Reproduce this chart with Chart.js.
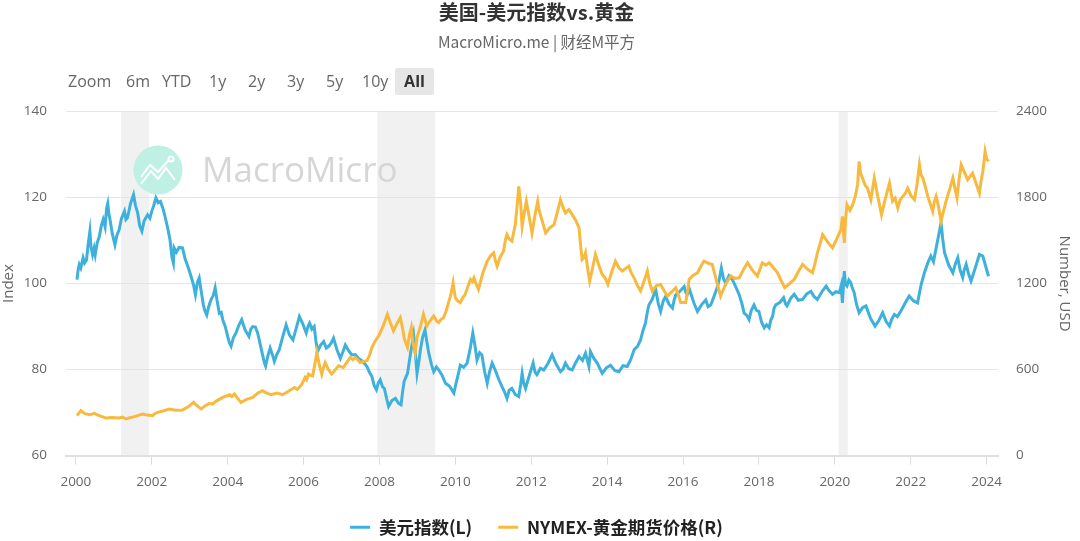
<!DOCTYPE html>
<html>
<head>
<meta charset="utf-8">
<script src="https://cdn.jsdelivr.net/npm/chart.js@4"></script>
<style>
  html, body { margin: 0; padding: 0; background: #fff; }
  #wrap { position: relative; width: 1080px; height: 541px; overflow: hidden; }
  .range { position: absolute; top: 68px; height: 27px; font: 16px/27px "Open Sans", sans-serif; color: #666; }
  .range.on { left: 395px; width: 39px; text-align: center; background: #e6e6e6; color: #333; font-weight: 700; border-radius: 2px; }
</style>
</head>
<body>
<div id="wrap">
  <canvas id="chart" width="1080" height="541"></canvas>
  <span class="range" style="left:68px">Zoom</span>
  <span class="range" style="left:126px">6m</span>
  <span class="range" style="left:162px">YTD</span>
  <span class="range" style="left:209px">1y</span>
  <span class="range" style="left:248px">2y</span>
  <span class="range" style="left:287px">3y</span>
  <span class="range" style="left:326px">5y</span>
  <span class="range" style="left:362px">10y</span>
  <span class="range on">All</span>
</div>
<script>
// values, one line per stretch of time
const dollarYears = [
  2000.03,2000.06,2000.09,2000.13,2000.19,2000.23,2000.28,2000.32,2000.37,2000.40,2000.44,2000.48,2000.51,2000.56,2000.62,2000.67,2000.72,2000.77,2000.81,2000.84,2000.87,2000.90,2000.96,
  2001.03,2001.08,2001.14,2001.20,2001.28,2001.32,2001.36,2001.44,2001.52,2001.57,2001.63,2001.68,2001.74,2001.80,2001.89,2001.95,
  2002.00,2002.05,2002.11,2002.17,2002.23,2002.29,2002.35,2002.42,2002.48,2002.53,2002.57,2002.59,2002.65,2002.72,2002.81,2002.88,2002.95,
  2003.03,2003.10,2003.15,2003.20,2003.25,2003.30,2003.36,2003.40,2003.45,2003.50,2003.56,2003.62,2003.67,2003.72,2003.78,2003.83,2003.87,2003.94,
  2004.00,2004.05,2004.09,2004.15,2004.22,2004.30,2004.37,2004.46,2004.56,2004.61,2004.66,2004.73,2004.79,2004.86,2004.92,2004.97,
  2005.00,2005.06,2005.12,2005.18,2005.23,2005.30,2005.36,2005.45,2005.54,2005.63,2005.72,2005.80,2005.89,2005.98,
  2006.07,2006.12,2006.16,2006.22,2006.28,2006.33,2006.37,2006.45,2006.53,2006.60,2006.66,2006.73,2006.79,2006.88,2006.97,
  2007.04,2007.10,2007.18,2007.27,2007.36,2007.45,2007.56,2007.67,2007.74,2007.80,2007.86,2007.92,2007.97,
  2008.02,2008.08,2008.13,2008.19,2008.24,2008.33,2008.42,2008.50,2008.57,2008.61,2008.65,2008.70,2008.74,2008.82,2008.90,2008.95,2008.99,
  2009.04,2009.08,2009.14,2009.20,2009.25,2009.30,2009.37,2009.43,2009.50,2009.56,2009.65,2009.74,2009.85,2009.96,
  2010.04,2010.09,2010.13,2010.22,2010.31,2010.39,2010.46,2010.52,2010.57,2010.64,2010.70,2010.77,2010.84,2010.90,2010.97,
  2011.05,2011.14,2011.23,2011.30,2011.36,2011.42,2011.49,2011.58,2011.67,2011.72,2011.76,2011.80,2011.85,2011.95,
  2012.05,2012.10,2012.15,2012.24,2012.33,2012.44,2012.55,2012.66,2012.77,2012.84,2012.90,2012.99,
  2013.08,2013.17,2013.26,2013.35,2013.43,2013.52,2013.56,2013.65,2013.74,2013.80,2013.87,2013.98,
  2014.09,2014.20,2014.31,2014.42,2014.53,2014.62,2014.71,2014.80,2014.88,2014.95,
  2015.01,2015.06,2015.10,2015.19,2015.28,2015.35,2015.41,2015.48,2015.54,2015.63,2015.72,2015.77,2015.81,2015.92,
  2016.03,2016.07,2016.11,2016.16,2016.20,2016.29,2016.38,2016.49,2016.60,2016.66,2016.73,2016.82,2016.91,2016.96,
  2017.01,2017.07,2017.13,2017.21,2017.30,2017.39,2017.48,2017.55,2017.61,2017.68,2017.74,2017.80,2017.87,2017.93,
  2018.00,2018.07,2018.14,2018.20,2018.27,2018.31,2018.36,2018.40,2018.45,2018.55,2018.65,2018.70,2018.74,2018.84,2018.93,
  2019.04,2019.15,2019.26,2019.37,2019.45,2019.54,2019.66,2019.77,2019.85,2019.94,
  2020.03,2020.12,2020.17,2020.20,2020.25,2020.28,2020.32,2020.37,2020.42,2020.46,2020.51,2020.57,2020.64,2020.73,2020.82,2020.94,
  2021.06,2021.16,2021.26,2021.35,2021.44,2021.50,2021.57,2021.65,2021.74,2021.85,2021.96,
  2022.07,2022.18,2022.27,2022.36,2022.45,2022.53,2022.60,2022.67,2022.74,2022.80,2022.84,2022.89,
  2023.00,2023.11,2023.17,2023.24,2023.30,2023.37,2023.41,2023.46,2023.52,2023.59,2023.70,2023.81,2023.90,2023.97,2024.05];
const dollarValues = [
  100.9,103.2,104.4,103.6,106,104.8,105.5,108.8,112.2,108.5,106.7,108.2,106.7,109.4,111,113.4,114.9,113.2,117.5,118.6,116.2,114.9,111.6,
  109,111.2,112.5,115.1,116.8,114.9,115.3,118.6,120.7,118.2,116.4,113.5,112.2,114.6,116,115.2,
  116.8,118.1,119.9,118.8,119.1,117.6,115.6,112.9,110.2,106.2,104.8,108.3,107.3,108.4,108.3,105.7,104,
  101.8,99.7,97.4,100.2,101.3,98.4,95,93.7,92.7,94.6,96.2,97.2,99,96.1,93.1,93.3,91.6,89.9,
  87.7,86.1,85.4,87.4,88.5,90.4,91.6,89.2,87.7,89.4,90,89.9,88.5,85.8,83.4,81.5,
  80.8,83.2,85,83.4,81.9,83.6,84.6,87.6,90.4,88,86.9,89.4,92.3,90.6,
  88.5,90.1,90.8,89.4,90,86.4,84.2,85.7,86.5,85,85.4,86.2,87.3,84.6,82.6,
  84.2,85.7,84.5,83.4,83.5,82.6,81.9,80.7,79.3,78.4,76.3,75.3,76.9,
  77.6,76,75.6,73.2,71.4,72.8,73.3,72.2,71.8,74.8,77.2,78.3,79.1,83.8,88,83.4,79.1,
  81.9,84.6,87.6,89.2,86.4,83.8,81.2,79.5,80.6,79.9,78.7,76.8,76.1,74.5,
  77.6,79.4,81,80.5,81.5,84.8,88.5,85.4,82.2,83.9,83.4,79.6,76.8,79.4,81.5,
  79.9,77.8,76,74.7,73.3,75.2,75.6,74.2,73.7,76.4,79.1,76.9,75.6,78.6,
  81.5,79.4,78.8,80.3,79.9,81.4,83.4,81.2,79.5,80.1,81.5,80.2,
  79.9,81.6,83,82.1,83.8,80.7,84.2,82.6,81.5,80.4,79.1,80.4,
  81,79.8,79.5,80.9,80.7,82.3,84.6,85.4,86.9,89.2,
  90.8,93.4,95,96.4,98.6,95.2,93.5,96,97,95.2,94.3,96.3,97.4,98.2,
  99.3,98,97.4,98.9,97.8,95.4,93.5,95.1,96.2,94.6,95,97.1,99.3,101.2,
  103.6,101,100.1,101.8,100.9,99.2,97.4,95.4,93.1,92.6,91.6,93.8,95,93.8,
  93.5,91,89.7,90.4,89.7,91.4,92.4,94.3,95.1,95.6,96.7,95.3,94.8,96.6,97.5,
  96.1,96.3,97.6,98.2,97,96.3,98.1,99.4,98.3,97.5,
  98.1,97.9,99.6,95.5,102.9,99.8,99.4,100.8,100.2,99,97.9,95.2,93.2,94.4,94.8,91.9,
  90.1,91.4,93.2,91.2,90.1,91.7,92.8,92.3,93.6,95.4,97.1,
  96,95.5,99.6,102.5,104.8,106.4,105.1,108.3,111.4,114.2,110.6,107.2,
  104.3,102.5,104.4,106,103.2,101.4,103.2,104.5,102.4,100.6,103.6,106.8,106.4,104.2,101.7];

const goldYears = [
  2000.03,2000.08,2000.13,2000.19,2000.26,2000.37,2000.48,2000.63,2000.79,2000.96,
  2001.14,2001.23,2001.32,2001.43,2001.54,2001.65,2001.76,2001.89,
  2002.02,2002.08,2002.15,2002.30,2002.46,2002.63,2002.81,2002.96,
  2003.10,2003.20,2003.30,2003.41,2003.52,2003.60,2003.69,2003.87,
  2004.05,2004.11,2004.18,2004.26,2004.35,2004.50,2004.66,2004.79,2004.92,
  2005.03,2005.14,2005.30,2005.45,2005.60,2005.76,2005.83,2005.89,2005.97,
  2006.04,2006.08,2006.13,2006.18,2006.24,2006.30,2006.35,2006.41,2006.48,2006.52,2006.57,2006.65,2006.74,2006.83,2006.92,
  2007.05,2007.14,2007.23,2007.30,2007.36,2007.43,2007.49,2007.58,2007.67,2007.74,2007.80,2007.89,2007.98,
  2008.10,2008.21,2008.29,2008.37,2008.46,2008.55,2008.60,2008.65,2008.70,2008.74,2008.79,2008.84,2008.88,2008.94,2008.99,
  2009.08,2009.16,2009.20,2009.25,2009.34,2009.43,2009.50,2009.56,2009.62,2009.69,2009.76,2009.82,2009.88,2009.94,2009.97,
  2010.00,2010.07,2010.13,2010.20,2010.26,2010.33,2010.40,2010.45,2010.49,2010.55,2010.61,2010.72,2010.84,2010.93,
  2011.01,2011.05,2011.10,2011.18,2011.27,2011.32,2011.36,2011.42,2011.49,2011.54,2011.58,2011.63,2011.67,2011.72,2011.76,2011.82,2011.87,2011.95,
  2012.02,2012.10,2012.17,2012.20,2012.24,2012.31,2012.38,2012.49,2012.60,2012.69,2012.77,2012.84,2012.90,2012.99,
  2013.08,2013.17,2013.26,2013.30,2013.34,2013.39,2013.43,2013.49,2013.54,2013.61,2013.69,2013.78,2013.87,2013.95,
  2014.02,2014.12,2014.22,2014.31,2014.40,2014.49,2014.57,2014.64,2014.71,2014.80,2014.88,2014.97,
  2015.06,2015.12,2015.19,2015.30,2015.41,2015.50,2015.59,2015.70,2015.81,2015.88,2015.94,
  2016.07,2016.12,2016.16,2016.27,2016.38,2016.47,2016.55,2016.66,2016.77,2016.88,2016.99,
  2017.12,2017.26,2017.37,2017.48,2017.59,2017.70,2017.83,2017.96,
  2018.09,2018.18,2018.27,2018.38,2018.49,2018.58,2018.68,2018.80,2018.93,
  2019.04,2019.15,2019.28,2019.41,2019.48,2019.54,2019.61,2019.68,2019.81,2019.94,
  2020.05,2020.16,2020.20,2020.25,2020.28,2020.32,2020.40,2020.47,2020.54,2020.60,2020.64,2020.68,2020.73,2020.80,2020.86,2020.95,
  2021.04,2021.13,2021.23,2021.33,2021.44,2021.52,2021.59,2021.66,2021.72,2021.79,2021.86,2021.92,2022.01,
  2022.10,2022.17,2022.23,2022.27,2022.32,2022.38,2022.45,2022.52,2022.58,2022.62,2022.67,2022.73,2022.80,2022.86,2022.93,
  2023.02,2023.11,2023.17,2023.22,2023.27,2023.33,2023.41,2023.50,2023.57,2023.63,2023.72,2023.81,2023.85,2023.90,2023.93,2023.96,2024.00,2024.05];
const goldValues = [
  278,296,313,300,290,284,294,276,262,266,
  262,268,255,264,271,280,290,282,
  278,292,301,311,325,316,318,340,
  371,346,325,348,364,358,378,405,
  424,412,429,400,371,392,406,435,452,
  436,424,436,424,448,475,462,475,505,
  545,530,568,560,556,640,719,640,568,610,649,602,568,596,626,
  614,650,684,668,684,668,649,656,661,700,753,800,835,
  905,985,924,869,920,962,900,823,780,753,840,893,790,719,823,
  900,985,948,904,942,974,940,927,948,962,1010,1067,1120,1206,1150,
  1101,1076,1067,1102,1125,1180,1229,1214,1240,1196,1159,1270,1356,1394,
  1414,1366,1322,1384,1426,1506,1542,1510,1496,1562,1611,1750,1878,1760,1600,1700,1774,1660,
  1553,1680,1774,1720,1681,1618,1553,1590,1611,1700,1785,1730,1693,1716,
  1681,1642,1588,1470,1368,1382,1414,1300,1217,1300,1403,1330,1264,1238,
  1194,1280,1356,1310,1287,1306,1322,1272,1240,1186,1148,1214,
  1287,1204,1148,1186,1194,1150,1113,1142,1171,1116,1067,
  1067,1150,1229,1258,1275,1320,1356,1342,1333,1220,1113,
  1196,1252,1236,1240,1296,1345,1292,1252,
  1345,1328,1345,1312,1275,1224,1171,1198,1229,
  1284,1333,1300,1275,1342,1414,1476,1542,1490,1449,
  1512,1576,1669,1484,1640,1750,1710,1750,1810,1890,2052,1970,1936,1884,1866,1785,
  1936,1810,1681,1790,1901,1774,1796,1727,1784,1808,1830,1866,1812,
  1785,1900,2029,1960,1936,1880,1808,1752,1704,1770,1808,1740,1634,1700,1774,
  1852,1936,1860,1797,1920,2029,1980,1924,1950,1971,1900,1831,1910,1982,2050,2121,2070,2052];

const recessions = [[2001.19,2001.93],[2007.94,2009.47],[2020.10,2020.34]];
const seriesNames = ['美元指数(L)', 'NYMEX-黄金期货价格(R)'];

const ticksFont = { family: '"Open Sans", sans-serif', size: 13.5 };
const axisTitleFont = { family: '"Open Sans", sans-serif', size: 15 };
const cjkFont = '"Noto Sans CJK SC", "Open Sans", sans-serif';

// grey bands and the MacroMicro mark sit behind the lines
const backdrop = {
  id: 'backdrop',
  beforeDatasetsDraw(chart) {
    const { ctx, chartArea, scales: { x } } = chart;
    ctx.save();
    ctx.fillStyle = 'rgba(225,225,225,0.45)';
    recessions.forEach(r => {
      const a = x.getPixelForValue(r[0]), b = x.getPixelForValue(r[1]);
      ctx.fillRect(a, chartArea.top, b - a, chartArea.bottom - chartArea.top);
    });
    ctx.fillStyle = '#bff0e4';
    ctx.beginPath();
    ctx.arc(158, 170, 24.5, 0, Math.PI * 2);
    ctx.fill();
    ctx.strokeStyle = '#fff';
    ctx.lineWidth = 2;
    ctx.beginPath();
    ctx.moveTo(141, 184); ctx.lineTo(151, 171); ctx.lineTo(158, 179); ctx.lineTo(166, 168); ctx.lineTo(175, 180);
    ctx.moveTo(141, 177); ctx.lineTo(150, 165); ctx.lineTo(158, 172); ctx.lineTo(169, 160);
    ctx.stroke();
    ctx.beginPath();
    ctx.arc(171, 159, 2.5, 0, Math.PI * 2);
    ctx.stroke();
    ctx.fillStyle = '#d6d6d6';
    ctx.font = '35px "Open Sans", sans-serif';
    ctx.textBaseline = 'middle';
    ctx.fillText('MacroMicro', 202, 172);
    ctx.restore();
  }
};

new Chart(document.getElementById('chart').getContext('2d'), {
  type: 'line',
  data: {
    datasets: [
      {
        label: seriesNames[0],
        data: dollarYears.map((yr, i) => ({ x: yr, y: dollarValues[i] })),
        yAxisID: 'y',
        borderColor: '#3db1dc',
        backgroundColor: '#3db1dc',
        borderWidth: 3,
        pointRadius: 0,
        tension: 0,
        order: 2
      },
      {
        label: seriesNames[1],
        data: goldYears.map((yr, i) => ({ x: yr, y: goldValues[i] })),
        yAxisID: 'y1',
        borderColor: '#f8b93f',
        backgroundColor: '#f8b93f',
        borderWidth: 3,
        pointRadius: 0,
        tension: 0,
        order: 1
      }
    ]
  },
  options: {
    responsive: false,
    animation: false,
    layout: { padding: { top: 0, bottom: -5, right: 7 } },
    plugins: {
      title: {
        display: true,
        text: '美国-美元指数vs.黄金',
        color: '#333',
        font: { family: cjkFont, size: 20, weight: 'bold' },
        padding: { top: 0, bottom: 9 }
      },
      subtitle: {
        display: true,
        text: 'MacroMicro.me | 财经M平方',
        color: '#666',
        font: { family: cjkFont, size: 15.5 },
        padding: { top: 0, bottom: 60 }
      },
      legend: {
        position: 'bottom',
        labels: {
          boxWidth: 20,
          boxHeight: 3,
          padding: 26,
          color: '#222',
          font: { family: cjkFont, size: 17.5, weight: 'bold' },
          sort: (a, b) => a.datasetIndex - b.datasetIndex,
          // legend keys are thin dashes, without the line's 3px stroke around them
          generateLabels: chart => Chart.defaults.plugins.legend.labels.generateLabels(chart)
            .map(item => ({ ...item, lineWidth: 0 }))
        }
      },
      tooltip: { enabled: false }
    },
    scales: {
      x: {
        type: 'linear',
        min: 1999.74,
        max: 2024.30,
        grid: { drawOnChartArea: false, drawTicks: true, tickLength: 9, color: '#dcdcdc' },
        border: { color: '#e0e0e0', width: 2 },
        ticks: {
          stepSize: 2,
          includeBounds: false,
          maxRotation: 0,
          color: '#666',
          font: ticksFont,
          padding: 10,
          callback: v => String(v)
        },
        afterFit: s => { s.height = 37; }
      },
      y: {
        position: 'left',
        min: 60,
        max: 140,
        title: { display: true, text: 'Index', color: '#666', font: axisTitleFont, padding: 0 },
        grid: { color: '#e6e6e6', drawTicks: false },
        border: { display: false },
        ticks: { stepSize: 20, color: '#666', font: ticksFont, padding: 19 },
        afterFit: s => { s.width = 66; }
      },
      y1: {
        position: 'right',
        min: 0,
        max: 2400,
        title: { display: true, text: 'Number, USD', color: '#666', font: axisTitleFont, padding: 0 },
        grid: { drawOnChartArea: false, drawTicks: false },
        border: { display: false },
        ticks: { stepSize: 600, color: '#666', font: ticksFont, padding: 18, callback: v => String(v) },
        afterFit: s => { s.width = 75; }
      }
    }
  },
  plugins: [backdrop]
});
</script>
</body>
</html>
